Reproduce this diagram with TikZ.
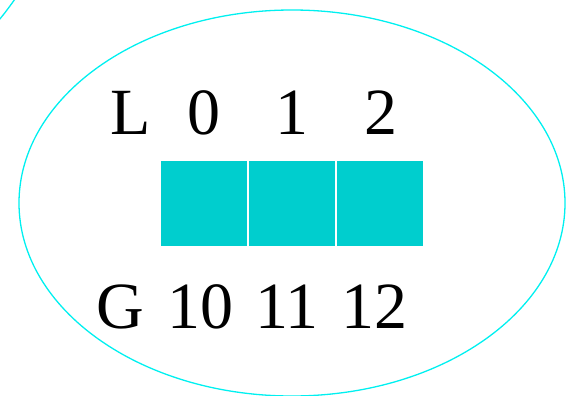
\documentclass[tikz,border=0pt]{standalone}
\usepackage{fontspec}
\setmainfont{Liberation Serif}
\definecolor{cellfill}{RGB}{0,206,206}
\definecolor{ringline}{RGB}{0,240,240}
\begin{document}
\begin{tikzpicture}[x=1pt,y=-1pt,
  cell/.style={fill=cellfill,draw=none,minimum width=86pt,minimum height=85pt,inner sep=0pt,anchor=north west},
  lbl/.style={inner sep=0pt,anchor=base,font=\fontsize{66}{70}\selectfont},
  ring/.style={draw=ringline,line width=1.3pt}]
\useasboundingbox (0,0) rectangle (570,396);
\draw[ring] (292,203) ellipse [x radius=273, y radius=193];
\draw[ring] (-1,20) .. controls (5,13) and (10,6) .. (15,-1);
\node[cell] (c0) at (161,161) {};
\node[cell] (c1) at (249,161) {};
\node[cell] (c2) at (337,161) {};
\node[lbl] (l) at (131,134) {L};
\node[lbl] (l0) at (204,134) {0};
\node[lbl] (l1) at (292,134) {1};
\node[lbl] (l2) at (381,134) {2};
\node[lbl] (g) at (120,328) {G};
\node[lbl] (g0) at (200,328) {10};
\node[lbl] (g1) at (287,328) {11};
\node[lbl] (g2) at (374,328) {12};
\end{tikzpicture}
\end{document}
